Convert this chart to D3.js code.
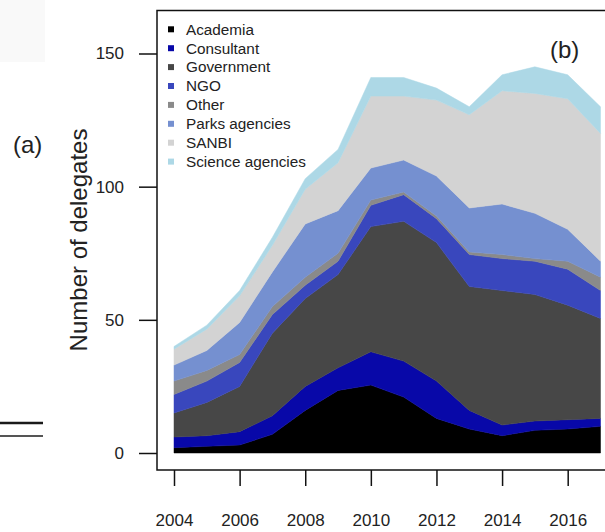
<!DOCTYPE html>
<html>
<head>
<meta charset="utf-8">
<script src="https://cdn.jsdelivr.net/npm/d3@7"></script>
<style>
  html, body { margin: 0; padding: 0; background: #fff; }
  svg { display: block; font-family: "Liberation Sans", Arial, Helvetica, sans-serif; }
</style>
</head>
<body>
<svg id="chart" width="605" height="532"></svg>
<script>
// ---- data ----
const years = [2004, 2005, 2006, 2007, 2008, 2009, 2010, 2011, 2012, 2013, 2014, 2015, 2016, 2017];
const categories = ["Academia", "Consultant", "Government", "NGO", "Other", "Parks agencies", "SANBI", "Science agencies"];
const academia   = [2, 2.5, 3, 7, 16, 23.5, 25.5, 21, 13, 9, 6.5, 8.5, 9, 10];
const consultant = [4, 4, 5, 7, 9, 8.5, 12.5, 13.5, 14, 7, 4, 3.5, 3.5, 3];
const government = [9, 12.5, 17, 31, 33, 35, 47, 52.5, 52, 46.5, 50.5, 47.5, 43, 37.5];
const ngo        = [7, 8, 9, 7, 5, 5, 8, 10, 9, 12, 12, 12.5, 13.5, 10.5];
const other      = [5, 4, 3, 3, 3, 3, 2, 1, 1, 1, 1.5, 1, 3, 5];
const parks      = [6, 7.5, 12, 13, 20, 16, 12, 12, 15, 16.5, 19, 17, 12, 6];
const sanbi      = [6, 8, 10, 10, 13, 18, 27, 24, 28.5, 35, 42.5, 45, 49, 48];
const science    = [1, 1.5, 2, 3, 4, 5, 7, 7, 4.5, 3, 6, 10, 9, 10];
const colors = ["#000000", "#0808a8", "#474747", "#3947bd", "#8a8a8a", "#7590d0", "#d3d3d3", "#add8e6"];
const yTicks = [0, 50, 100, 150];
const xTicks = [2004, 2006, 2008, 2010, 2012, 2014, 2016];

const seriesValues = [academia, consultant, government, ngo, other, parks, sanbi, science];
const table = years.map((yr, i) => {
  const row = { year: yr };
  categories.forEach((c, k) => { row[c] = seriesValues[k][i]; });
  return row;
});

// ---- drawing ----
const svg = d3.select("#chart");
const x = d3.scaleLinear().domain([2004, 2017]).range([174, 600.5]);
const y = d3.scaleLinear().domain([0, 150]).range([453, 53.5]);

// faint remnants of panel (a)
svg.append("rect").attr("x", 0).attr("y", 0).attr("width", 45).attr("height", 62).attr("fill", "#f9f9f9");
svg.append("line").attr("x1", 0).attr("x2", 43).attr("y1", 423).attr("y2", 423)
  .attr("stroke", "#1a1a1a").attr("stroke-width", 2.5);
svg.append("line").attr("x1", 0).attr("x2", 43).attr("y1", 436).attr("y2", 436)
  .attr("stroke", "#555").attr("stroke-width", 2);
svg.append("text").attr("x", 13).attr("y", 153).attr("font-size", 24).attr("fill", "#222").text("(a)");

// stacked areas
const stack = d3.stack().keys(categories);
const layers = stack(table);
const area = d3.area()
  .x(d => x(d.data.year))
  .y0(d => y(d[0]))
  .y1(d => y(d[1]));
svg.append("g").selectAll("path").data(layers).join("path")
  .attr("d", area)
  .attr("fill", (d, i) => colors[i])
  .attr("stroke", (d, i) => colors[i])
  .attr("stroke-width", 0.5);

// plot box (open to the right, clipped by picture)
svg.append("rect").attr("x", 157).attr("y", 10.5).attr("width", 600).attr("height", 459.5)
  .attr("fill", "none").attr("stroke", "#111").attr("stroke-width", 1.5);

// y axis
const yAxis = svg.append("g").attr("transform", "translate(157,0)")
  .call(d3.axisLeft(y).tickValues(yTicks).tickSize(18).tickPadding(15).tickFormat(d3.format("d")));
yAxis.select(".domain").remove();
yAxis.selectAll("line").attr("stroke", "#111").attr("stroke-width", 1.5);
yAxis.selectAll("text").attr("font-size", 17).attr("fill", "#222")
  .attr("font-family", "Liberation Sans, Arial, sans-serif");

// x axis
const xAxis = svg.append("g").attr("transform", "translate(0,470)")
  .call(d3.axisBottom(x).tickValues(xTicks).tickSize(16).tickPadding(28).tickFormat(d3.format("d")));
xAxis.select(".domain").remove();
xAxis.selectAll("line").attr("stroke", "#111").attr("stroke-width", 1.5);
xAxis.selectAll("text").attr("font-size", 17).attr("fill", "#222")
  .attr("font-family", "Liberation Sans, Arial, sans-serif");

// y title
svg.append("text")
  .attr("transform", "translate(87,240) rotate(-90)")
  .attr("text-anchor", "middle").attr("font-size", 24).attr("fill", "#222")
  .text("Number of delegates");

// panel label
svg.append("text").attr("x", 550).attr("y", 58).attr("font-size", 24).attr("fill", "#222").text("(b)");

// legend
const legend = svg.append("g");
const lg = legend.selectAll("g").data(categories).join("g")
  .attr("transform", (d, i) => `translate(0,${29.3 + i * 18.9})`);
lg.append("rect").attr("x", 168).attr("y", -3).attr("width", 6).attr("height", 6)
  .attr("fill", (d, i) => colors[i]);
lg.append("text").attr("x", 186).attr("y", 0).attr("dy", "0.35em")
  .attr("font-size", 15.3).attr("fill", "#222").text(d => d);
</script>
</body>
</html>
